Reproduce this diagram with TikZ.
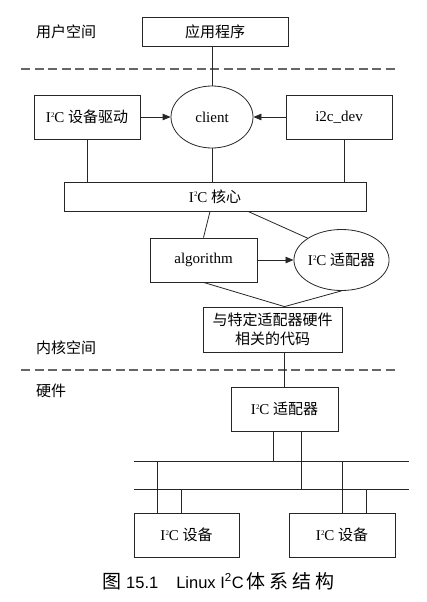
\documentclass[tikz,border=0pt]{standalone}
\usepackage{fontspec}
\setmainfont{Liberation Serif}
\setsansfont{Liberation Sans}
\newfontfamily\cjk{Noto Sans CJK SC}
\usetikzlibrary{shapes.geometric,arrows.meta}

\newcommand{\zh}[1]{{\cjk #1}}
\newcommand{\iic}{I\kern0.3pt\raisebox{5.5pt}{\fontsize{7}{7}\selectfont 2}\kern-0.3ptC}

\begin{document}
\begin{tikzpicture}[x=1pt, y=-1pt,
    box/.style={draw=black!85, line width=0.8pt, inner sep=0pt, align=center,
        font=\fontsize{15}{19}\selectfont},
    oval/.style={box, ellipse},
    link/.style={draw=black!85, line width=0.8pt},
    arr/.style={link, -{Triangle[length=8pt, width=6.5pt]}},
    split/.style={draw=black!60, line width=1.8pt, dash pattern=on 9pt off 4.5pt},
    area/.style={anchor=west, inner sep=0pt, font=\fontsize{15}{19}\selectfont}]
    % page
    \useasboundingbox (0,0) rectangle (427,602);

    % user space
    \node[area] (lUser) at (36,32) {\zh{用户空间}};
    \node[box, minimum width=146pt, minimum height=29pt] (app) at (215,31.5) {\zh{应用程序}};
    \draw[split] (21,69) -- (395,69);

    % kernel space
    \node[oval, minimum width=82pt, minimum height=62pt] (client) at (212,117) {client};
    \node[box, minimum width=106pt, minimum height=44pt] (drv) at (87,117) {\iic\ \zh{设备驱动}};
    \node[box, minimum width=106pt, minimum height=44pt] (dev) at (339,117) {i2c\_dev};
    \node[box, minimum width=302pt, minimum height=29pt] (core) at (215,196.5) {\iic\ \zh{核心}};
    \node[box, minimum width=107pt, minimum height=44pt] (algo) at (203.5,260) {algorithm};
    \node[oval, minimum width=89pt, minimum height=61pt] (adap) at (341.5,260) {\iic\ \zh{适配器}};
    \node[box, minimum width=139pt, minimum height=45pt] (hwcode) at (272.5,329.5)
        {\zh{与特定适配器硬件}\\\zh{相关的代码}};
    \coordinate (join) at ([xshift=12pt]hwcode.north);

    \draw[link] (client.north |- app.south) -- (client.north);
    \draw[arr] (drv) -- (client);
    \draw[arr] (dev) -- (client);
    \draw[link] (drv.south) -- (drv.south |- core.north);
    \draw[link] (client.south) -- (client.south |- core.north);
    \draw[link] ([xshift=5pt]dev.south) -- ([xshift=5pt]dev.south |- core.north);
    \draw[link] ([xshift=-5pt]core.south) -- (algo.north);
    \draw[link] ([xshift=33pt]core.south) -- (adap.north west);
    \draw[arr] (algo) -- (adap);
    \draw[link] (algo.south) -- (join) -- (adap.south);

    \node[area] (lKernel) at (36,348) {\zh{内核空间}};
    \draw[split] (21,370) -- (395,370);

    % hardware
    \node[area] (lHw) at (36,391) {\zh{硬件}};
    \node[box, minimum width=107pt, minimum height=44pt] (hwadap) at (284.5,409) {\iic\ \zh{适配器}};
    \node[box, minimum width=105pt, minimum height=44pt] (dev1) at (186.5,535) {\iic\ \zh{设备}};
    \node[box, minimum width=106pt, minimum height=44pt] (dev2) at (342,535) {\iic\ \zh{设备}};
    \draw[link] (hwadap.north |- hwcode.south) -- (hwadap.north);

    % two bus lines
    \coordinate (busA) at (134,461);
    \coordinate (busAe) at (409,461);
    \coordinate (busB) at (134,489);
    \coordinate (busBe) at (409,489);
    \draw[link] (busA) -- (busAe);
    \draw[link] (busB) -- (busBe);

    \draw[link] ([xshift=-11.5pt]hwadap.south) -- ([xshift=-11.5pt]hwadap.south |- busA);
    \draw[link] ([xshift=16.5pt]hwadap.south) -- ([xshift=16.5pt]hwadap.south |- busB);
    \draw[link] ([xshift=-29.5pt]dev1.north) -- ([xshift=-29.5pt]dev1.north |- busA);
    \draw[link] ([xshift=-5.5pt]dev1.north) -- ([xshift=-5.5pt]dev1.north |- busB);
    \draw[link] (dev2.north) -- (dev2.north |- busA);
    \draw[link] ([xshift=24pt]dev2.north) -- ([xshift=24pt]dev2.north |- busB);

    % caption
    \node[area, font=\sffamily\fontsize{16.5}{19}\selectfont] (caption) at (102,581)
        {{\cjk\fontsize{19}{19}\selectfont 图}\hspace{5pt}15.1\hspace{18pt}Linux
         I\textsuperscript{2}C\hspace{3pt}{\cjk\fontsize{19}{19}\selectfont
         体\hspace{4pt}系\hspace{4pt}结\hspace{4pt}构}};
\end{tikzpicture}
\end{document}
